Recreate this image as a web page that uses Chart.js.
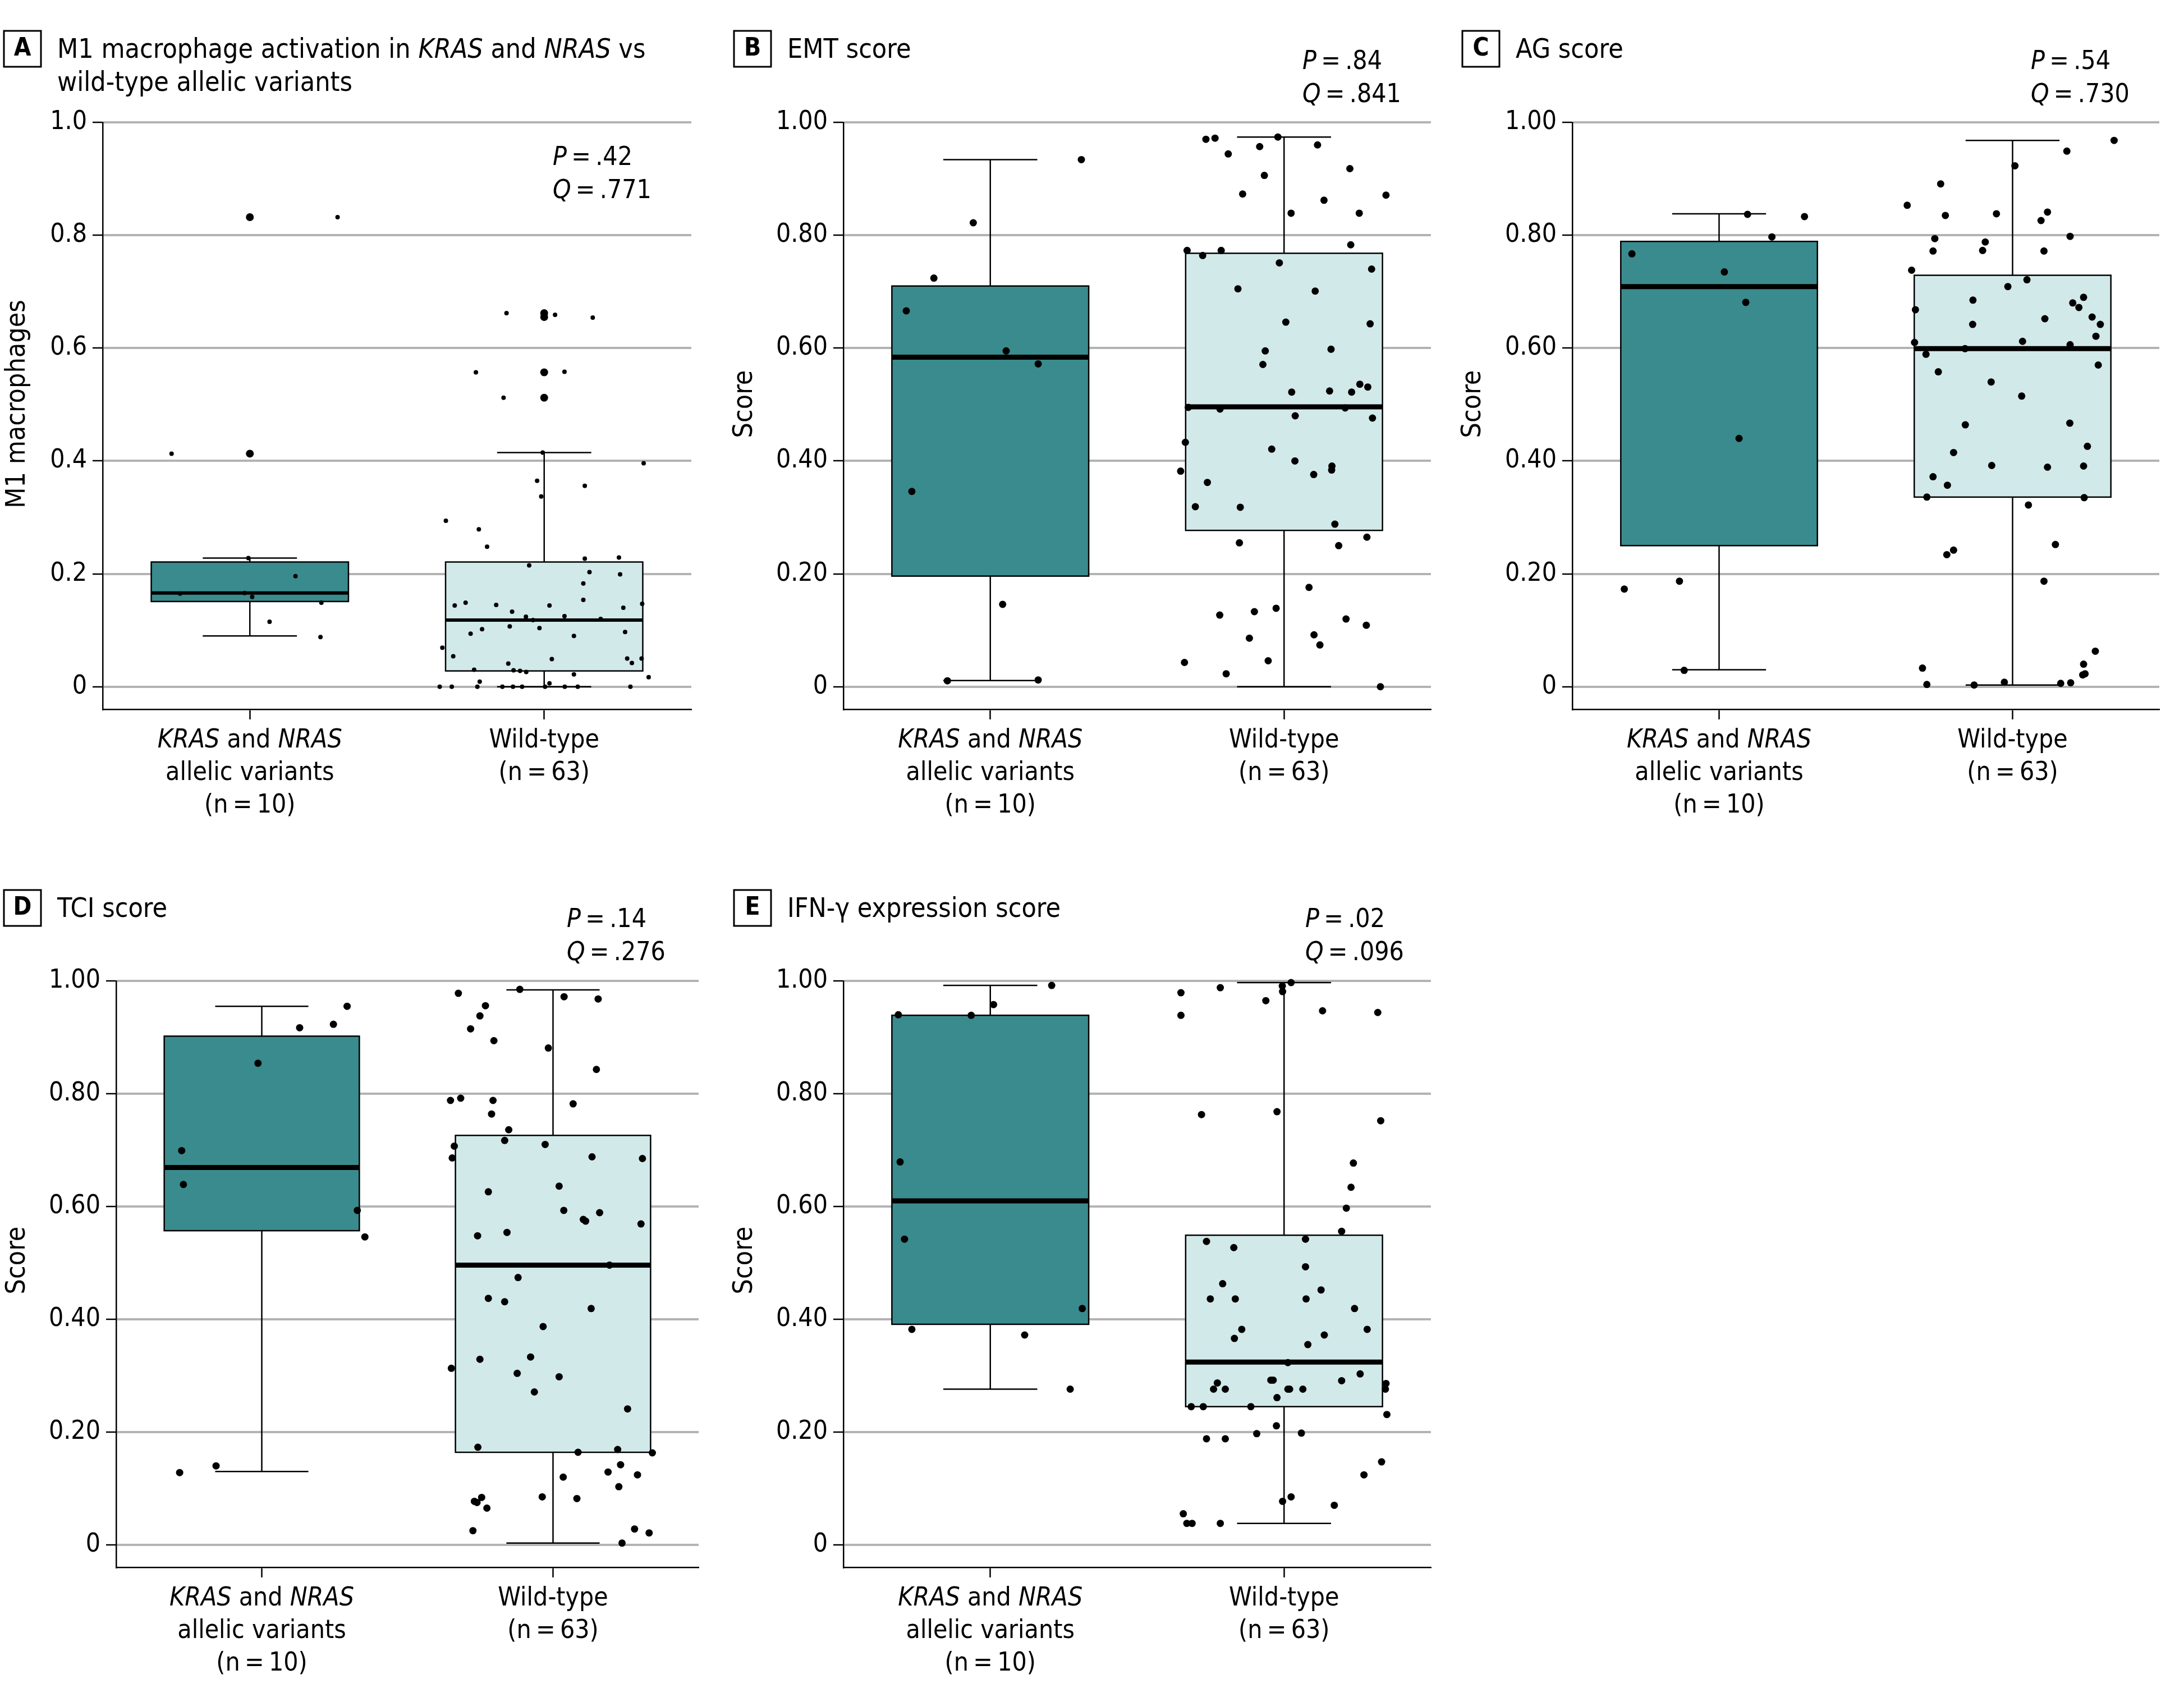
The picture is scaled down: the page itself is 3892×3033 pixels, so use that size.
<!DOCTYPE html>
<html>
<head>
<meta charset="utf-8">
<script src="https://cdn.jsdelivr.net/npm/chart.js@4.4.1/dist/chart.umd.min.js"></script>
<style>
  html, body { margin: 0; padding: 0; background: #fff; }
  body { width: 3892px; height: 3033px; position: relative; overflow: hidden; }
  canvas { position: absolute; }
</style>
</head>
<body>
<canvas id="cA"></canvas>
<canvas id="cB"></canvas>
<canvas id="cC"></canvas>
<canvas id="cD"></canvas>
<canvas id="cE"></canvas>
<script>
// ---- data ----
const panelLetters = ['A', 'B', 'C', 'D', 'E']
const panelTitles = [
  [[['M1 macrophage activation in ', 0], ['KRAS', 1], [' and ', 0], ['NRAS', 1], [' vs', 0]], [['wild-type allelic variants', 0]]],
  [[['EMT score', 0]]],
  [[['AG score', 0]]],
  [[['TCI score', 0]]],
  [[['IFN-\u03b3 expression score', 0]]]
]
const yTitles = ['M1 macrophages', 'Score', 'Score', 'Score', 'Score']
const pVals = ['.42', '.84', '.54', '.14', '.02']
const qVals = ['.771', '.841', '.730', '.276', '.096']
const krasLabel = [[['KRAS', 1], [' and ', 0], ['NRAS', 1]], [['allelic variants', 0]], [['(n\u2009=\u200910)', 0]]]
const wtLabel = [[['Wild-type', 0]], [['(n\u2009=\u200963)', 0]]]
const yTicks = [0, 0.2, 0.4, 0.6, 0.8, 1.0]
const yTickLabelsA = ['0', '0.2', '0.4', '0.6', '0.8', '1.0']
const yTickLabels = ['0', '0.20', '0.40', '0.60', '0.80', '1.00']

// box stats: [whisker low, q1, median, q3, whisker high]
const aKrasBox = [0.090, 0.151, 0.166, 0.221, 0.228]
const aWtBox = [0, 0.028, 0.118, 0.221, 0.415]
const bKrasBox = [0.011, 0.196, 0.584, 0.710, 0.934]
const bWtBox = [0, 0.277, 0.496, 0.768, 0.974]
const cKrasBox = [0.030, 0.250, 0.709, 0.789, 0.838]
const cWtBox = [0.003, 0.336, 0.599, 0.729, 0.968]
const dKrasBox = [0.130, 0.557, 0.669, 0.902, 0.955]
const dWtBox = [0.003, 0.164, 0.496, 0.726, 0.984]
const eKrasBox = [0.276, 0.391, 0.610, 0.939, 0.992]
const eWtBox = [0.038, 0.245, 0.324, 0.549, 0.997]

// outliers (panel A only)
const aKrasOut = [0.832, 0.413]
const aWtOut = [0.662, 0.655, 0.557, 0.512]

// jittered points: [horizontal jitter, value]
const aKrasPts = [[.298, .832], [-.266, .413], [-.237, .165], [-.018, .166], [-.005, .228], [.155, .196], [.008, .159], [.067, .115], [.243, .149], [.240, .088]]
const aWtPts = [[-.128, .662], [.037, .659], [.165, .654], [-.232, .557], [.069, .558], [-.138, .512], [-.005, .415], [-.024, .365],
  [-.010, .337], [.138, .356], [.338, .396], [-.334, .294], [-.222, .279], [-.194, .248], [-.051, .215], [.138, .227], [.254, .229],
  [.154, .203], [.258, .199], [.133, .183], [.133, .154], [-.304, .144], [-.267, .149], [-.163, .145], [-.109, .133], [-.062, .124],
  [.018, .144], [.069, .125], [-.038, .118], [-.016, .104], [-.117, .107], [-.211, .102], [-.250, .094], [.101, .090], [.192, .120],
  [.269, .140], [.333, .147], [.275, .097], [-.346, .069], [-.309, .054], [.026, .049], [.282, .050], [.331, .050], [.298, .042],
  [-.122, .041], [-.238, .030], [-.104, .029], [-.082, .028], [-.061, .026], [.101, .022], [.355, .017], [-.219, .009], [.018, .006],
  [-.355, 0], [-.314, 0], [-.227, 0], [-.142, 0], [-.106, 0], [-.075, 0], [.070, 0], [.114, 0], [.293, 0], [.003, 0]]

const bKrasPts = [[.310, .934], [-.058, .822], [-.192, .724], [-.286, .666], [.054, .595], [.163, .572], [-.267, .346], [.042, .146], [-.146, .0105], [.163, .012]]
const bWtPts = [[-.266, .970], [-.235, .972], [-.021, .974], [-.083, .957], [.114, .960], [-.190, .944], [-.067, .906], [.224, .918],
  [-.141, .873], [.347, .871], [.136, .862], [.024, .839], [.256, .839], [.227, .783], [-.330, .773], [-.214, .773], [-.277, .764],
  [-.016, .751], [.298, .740], [-.157, .705], [.106, .701], [.006, .646], [.293, .643], [-.064, .595], [.160, .598], [-.072, .571],
  [.026, .522], [.155, .524], [.230, .522], [.258, .536], [.285, .531], [-.326, .495], [-.218, .492], [.208, .494], [.038, .480],
  [.301, .476], [-.336, .433], [-.042, .421], [-.352, .382], [.037, .400], [.163, .391], [.162, .384], [-.261, .362], [.101, .376],
  [-.302, .319], [-.149, .318], [.173, .288], [-.152, .255], [.282, .265], [.186, .250], [.085, .176], [-.219, .127], [-.101, .133],
  [-.027, .139], [.211, .120], [.280, .109], [.102, .092], [.122, .074], [-.118, .086], [-.054, .046], [-.339, .043], [-.197, .023], [.328, 0]]

const cKrasPts = [[-.297, .767], [.097, .837], [.291, .833], [.180, .797], [.018, .735], [.091, .681], [.068, .440], [-.323, .173], [-.135, .187], [-.119, .029]]
const cWtPts = [[.346, .968], [.185, .949], [.008, .923], [-.245, .891], [-.359, .853], [-.229, .835], [-.055, .838], [.119, .841],
  [.097, .826], [.196, .798], [-.265, .794], [-.093, .788], [-.271, .772], [-.102, .773], [.107, .772], [-.344, .738], [.049, .721],
  [-.016, .709], [-.331, .668], [-.135, .685], [.205, .680], [.226, .672], [.242, .690], [.271, .655], [.299, .642], [-.136, .642],
  [.110, .652], [-.334, .610], [.034, .612], [.196, .606], [-.162, .599], [.284, .621], [-.295, .589], [.292, .570], [-.253, .558],
  [-.073, .540], [.031, .515], [-.161, .464], [.195, .467], [.255, .426], [-.201, .415], [-.071, .392], [.119, .389], [.242, .391],
  [-.271, .372], [-.222, .357], [-.292, .336], [.244, .335], [.054, .322], [-.201, .242], [-.224, .234], [.146, .252], [.107, .187],
  [.282, .063], [.242, .040], [.247, .023], [.239, .021], [-.307, .033], [-.292, .004], [-.131, .003], [-.028, .008], [.164, .006], [.198, .007]]

const dKrasPts = [[.293, .955], [.246, .923], [.130, .917], [-.013, .854], [-.275, .699], [-.269, .639], [.328, .593], [.354, .546], [-.282, .128], [-.157, .140]]
const dWtPts = [[-.114, .985], [-.325, .978], [.038, .972], [.155, .968], [-.232, .956], [-.251, .938], [-.283, .915], [-.203, .894],
  [-.016, .881], [.149, .843], [-.352, .788], [-.317, .792], [-.206, .788], [.069, .782], [-.211, .764], [-.152, .736], [-.166, .717],
  [-.339, .707], [-.027, .710], [-.346, .686], [.134, .688], [.307, .685], [-.222, .626], [.021, .636], [.037, .593], [.104, .577],
  [.112, .574], [.160, .589], [.302, .569], [-.259, .548], [-.158, .554], [.194, .496], [-.120, .474], [-.222, .437], [-.166, .431],
  [.131, .419], [-.034, .387], [-.077, .333], [-.251, .329], [-.349, .313], [-.123, .304], [.021, .298], [-.064, .271], [.256, .241],
  [-.258, .173], [.086, .164], [.222, .169], [.341, .163], [.232, .142], [.189, .129], [.290, .124], [.035, .120], [.226, .103],
  [-.037, .085], [.082, .082], [-.245, .084], [-.270, .077], [-.261, .075], [-.227, .065], [-.275, .025], [.280, .028], [.330, .021], [.237, .003]]

const eKrasPts = [[.209, .992], [.011, .958], [-.065, .939], [-.313, .940], [-.307, .679], [-.292, .542], [.313, .419], [-.267, .382], [.117, .372], [.272, .276]]
const eWtPts = [[.024, .997], [-.006, .991], [-.005, .981], [-.217, .988], [-.351, .979], [-.062, .965], [.131, .947], [.319, .944],
  [-.351, .939], [-.281, .763], [-.024, .768], [.329, .752], [.236, .677], [.228, .634], [.212, .597], [.196, .556], [.073, .542],
  [-.264, .538], [-.171, .527], [.073, .493], [-.209, .463], [-.251, .436], [-.166, .436], [.075, .436], [.126, .452], [.240, .419],
  [-.144, .382], [.283, .382], [-.169, .366], [.137, .372], [.081, .355], [.013, .323], [.259, .303], [-.227, .287], [-.045, .292],
  [-.037, .292], [.196, .291], [.347, .286], [-.240, .276], [-.200, .276], [.013, .276], [.019, .276], [.064, .276], [.345, .276],
  [-.024, .261], [-.316, .245], [-.275, .245], [-.113, .245], [.350, .231], [-.264, .188], [-.200, .188], [-.093, .197], [-.026, .211],
  [.059, .198], [.332, .147], [.272, .124], [-.005, .077], [.024, .085], [.171, .070], [-.343, .055], [-.331, .038], [-.313, .038], [-.217, .038]]

// ---- look ----
const FONT = "'DejaVu Sans Condensed', 'Liberation Sans Narrow', sans-serif"
const KRAS_FILL = '#3a8b8d'
const WT_FILL = '#d2e9ea'
const GRID = '#b3b3b3'
const BOX_HALF = 0.335
const CAP_HALF = 0.16
const YW = 150
const XH = 40
Chart.defaults.font.family = FONT

// drawing text with italic pieces
function rich(ctx, parts, x, y, size, align) {
  const fnt = it => (it ? 'italic ' : '') + size + 'px ' + FONT
  let w = 0
  parts.forEach(([t, it]) => { ctx.font = fnt(it); w += ctx.measureText(t).width })
  let cx = align === 'center' ? x - w / 2 : x
  ctx.textAlign = 'left'
  ctx.textBaseline = 'middle'
  parts.forEach(([t, it]) => { ctx.font = fnt(it); ctx.fillText(t, cx, y); cx += ctx.measureText(t).width })
}

function makePanel(p) {
  const cv = document.getElementById(p.id)
  cv.width = p.w
  cv.height = p.h
  cv.style.left = p.ox + 'px'
  cv.style.top = p.oy + 'px'
  const X = v => v - p.ox
  const Y = v => v - p.oy

  const boxPlugin = {
    id: 'boxes',
    beforeDatasetsDraw(chart) {
      const xs = chart.scales.x, ys = chart.scales.y, ctx = chart.ctx
      ;[[0, p.krasBox, KRAS_FILL], [1, p.wtBox, WT_FILL]].forEach(([c, b, fill]) => {
        const cx = xs.getPixelForValue(c)
        const hw = xs.getPixelForValue(c + BOX_HALF) - cx
        const cw = xs.getPixelForValue(c + CAP_HALF) - cx
        const [lo, q1, md, q3, hi] = b.map(v => ys.getPixelForValue(v))
        ctx.save()
        ctx.strokeStyle = '#000'
        ctx.lineWidth = 2.5
        ctx.beginPath()
        ctx.moveTo(cx, q3); ctx.lineTo(cx, hi)
        ctx.moveTo(cx, q1); ctx.lineTo(cx, lo)
        ctx.moveTo(cx - cw, hi); ctx.lineTo(cx + cw, hi)
        ctx.moveTo(cx - cw, lo); ctx.lineTo(cx + cw, lo)
        ctx.stroke()
        ctx.fillStyle = fill
        ctx.fillRect(cx - hw, q3, 2 * hw, q1 - q3)
        ctx.strokeRect(cx - hw, q3, 2 * hw, q1 - q3)
        ctx.lineWidth = p.medW
        ctx.beginPath()
        ctx.moveTo(cx - hw, md); ctx.lineTo(cx + hw, md)
        ctx.stroke()
        ctx.restore()
      })
    }
  }

  const textPlugin = {
    id: 'texts',
    afterDraw(chart) {
      const ctx = chart.ctx, xs = chart.scales.x, area = chart.chartArea
      ctx.save()
      ctx.fillStyle = '#000'
      // letter box
      ctx.strokeStyle = '#000'
      ctx.lineWidth = 3
      ctx.strokeRect(X(p.lx), Y(p.ly), 66, 64)
      ctx.font = 'bold 44px ' + FONT
      ctx.textAlign = 'center'
      ctx.textBaseline = 'middle'
      ctx.fillText(p.letter, X(p.lx + 33), Y(p.ly + 33))
      // title
      p.title.forEach((line, i) => rich(ctx, line, X(p.lx + 95), Y(p.ly + 36 + i * 59), 48, 'left'))
      // P and Q
      rich(ctx, [['P', 1], ['\u2009=\u2009' + p.pv, 0]], X(p.px), Y(p.py + 4), 46, 'left')
      rich(ctx, [['Q', 1], ['\u2009=\u2009' + p.qv, 0]], X(p.px), Y(p.py + 63), 46, 'left')
      // y title
      ctx.save()
      ctx.translate(X(p.ytx), Y(p.yty))
      ctx.rotate(-Math.PI / 2)
      rich(ctx, [[p.yTitle, 0]], 0, 0, 48, 'center')
      ctx.restore()
      // category labels
      ;[[0, krasLabel], [1, wtLabel]].forEach(([c, lines]) => {
        const cx = xs.getPixelForValue(c)
        lines.forEach((line, i) => rich(ctx, line, cx, area.bottom + 56 + i * 58, 46, 'center'))
      })
      ctx.restore()
    }
  }

  const pts = (arr, c) => arr.map(d => ({ x: c + d[0], y: d[1] }))
  const datasets = [
    { data: pts(p.krasPts, 0), pointRadius: p.r },
    { data: pts(p.wtPts, 1), pointRadius: p.r }
  ]
  if (p.krasOut) {
    datasets.push({ data: p.krasOut.map(v => ({ x: 0, y: v })).concat(p.wtOut.map(v => ({ x: 1, y: v }))), pointRadius: 7 })
  }
  datasets.forEach(d => {
    d.backgroundColor = '#000'
    d.borderWidth = 0
    d.clip = false
  })

  new Chart(cv, {
    type: 'scatter',
    data: { datasets: datasets },
    options: {
      responsive: false,
      animation: false,
      devicePixelRatio: 1,
      events: [],
      layout: {
        autoPadding: false,
        padding: { left: p.L - p.ox - YW, top: p.T - p.oy, right: p.ox + p.w - p.R, bottom: p.oy + p.h - p.B - XH }
      },
      plugins: { legend: { display: false }, tooltip: { enabled: false } },
      scales: {
        x: {
          type: 'linear', min: -0.5, max: 1.5,
          afterBuildTicks: s => { s.ticks = [{ value: 0 }, { value: 1 }] },
          afterFit: s => { s.height = XH },
          ticks: { display: false },
          grid: { drawOnChartArea: false, tickLength: 18, tickColor: '#000', tickWidth: 2.5 },
          border: { color: '#000', width: 2.5 }
        },
        y: {
          type: 'linear', min: -0.04, max: 1.0,
          afterBuildTicks: s => { s.ticks = yTicks.map(v => ({ value: v })) },
          afterFit: s => { s.width = YW },
          ticks: {
            color: '#000', padding: 10, font: { size: 46 },
            callback: (v, i) => p.tickLabels[i]
          },
          grid: { color: GRID, lineWidth: 4, tickLength: 18, tickColor: '#000', tickWidth: 2.5 },
          border: { color: '#000', width: 2.5 }
        }
      }
    },
    plugins: [boxPlugin, textPlugin]
  })
}

const topRow = { oy: 0, h: 1520, T: 218, B: 1264, ly: 55, py: 107 }
const botRow = { oy: 1520, h: 1513, T: 1748, B: 2793, ly: 1586, py: 1636 }

makePanel(Object.assign({}, topRow, {
  id: 'cA', ox: 0, w: 1290, L: 183, R: 1232, lx: 7, px: 985, py: 278, ytx: 32, yty: 720,
  letter: panelLetters[0], title: panelTitles[0], yTitle: yTitles[0], pv: pVals[0], qv: qVals[0], tickLabels: yTickLabelsA,
  krasBox: aKrasBox, wtBox: aWtBox, krasPts: aKrasPts, wtPts: aWtPts, krasOut: aKrasOut, wtOut: aWtOut, r: 4, medW: 6
}))
makePanel(Object.assign({}, topRow, {
  id: 'cB', ox: 1290, w: 1300, L: 1503, R: 2550, lx: 1308, px: 2321, ytx: 1328, yty: 720,
  letter: panelLetters[1], title: panelTitles[1], yTitle: yTitles[1], pv: pVals[1], qv: qVals[1], tickLabels: yTickLabels,
  krasBox: bKrasBox, wtBox: bWtBox, krasPts: bKrasPts, wtPts: bWtPts, r: 6.5, medW: 9
}))
makePanel(Object.assign({}, topRow, {
  id: 'cC', ox: 2590, w: 1302, L: 2802, R: 3848, lx: 2606, px: 3619, ytx: 2626, yty: 720,
  letter: panelLetters[2], title: panelTitles[2], yTitle: yTitles[2], pv: pVals[2], qv: qVals[2], tickLabels: yTickLabels,
  krasBox: cKrasBox, wtBox: cWtBox, krasPts: cKrasPts, wtPts: cWtPts, r: 6.5, medW: 9
}))
makePanel(Object.assign({}, botRow, {
  id: 'cD', ox: 0, w: 1290, L: 207, R: 1245, lx: 7, px: 1010, ytx: 32, yty: 2246,
  letter: panelLetters[3], title: panelTitles[3], yTitle: yTitles[3], pv: pVals[3], qv: qVals[3], tickLabels: yTickLabels,
  krasBox: dKrasBox, wtBox: dWtBox, krasPts: dKrasPts, wtPts: dWtPts, r: 6.5, medW: 9
}))
makePanel(Object.assign({}, botRow, {
  id: 'cE', ox: 1290, w: 1300, L: 1503, R: 2550, lx: 1308, px: 2326, ytx: 1328, yty: 2246,
  letter: panelLetters[4], title: panelTitles[4], yTitle: yTitles[4], pv: pVals[4], qv: qVals[4], tickLabels: yTickLabels,
  krasBox: eKrasBox, wtBox: eWtBox, krasPts: eKrasPts, wtPts: eWtPts, r: 6.5, medW: 9
}))
</script>
</body>
</html>
